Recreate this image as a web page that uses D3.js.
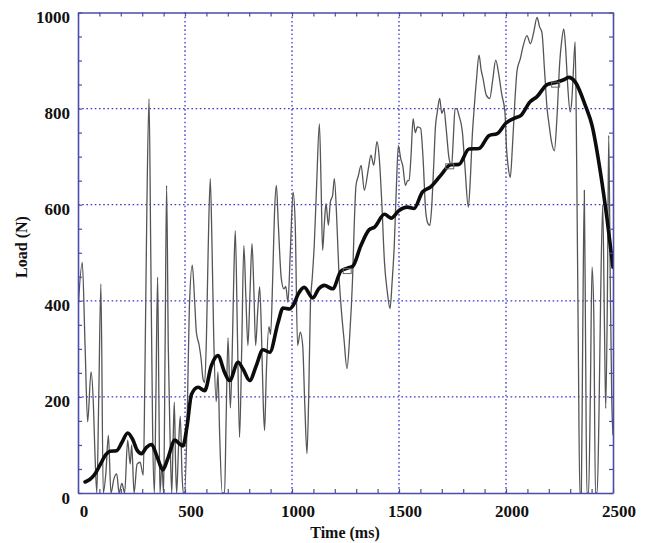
<!DOCTYPE html>
<html><head><meta charset="utf-8">
<script src="https://cdn.jsdelivr.net/npm/d3@7"></script>
<style>
html,body{margin:0;padding:0;background:#fff;}
text{font-family:"Liberation Serif","Times New Roman",serif;font-weight:bold;fill:#111;}
</style></head>
<body><svg id="chart" width="652" height="543"></svg>
<script>
// ---- data ----
const rawTime = [0,20,33,45,61,72,79,88,97,107,118,130,142,154,168,181,192,205,218,232,244,251,262,276,290,305,313,322,332,340,349,357,364,372,378,383,392,400,407,414,422,430,438,444,450,456,461,470,478,486,492,498,510,520,534,545,553,566,575,584,592,600,608,618,626,634,646,654,662,674,685,692,701,712,720,728,735,745,755,765,775,785,794,804,813,822,830,840,849,858,866,872,880,892,900,910,918,927,936,950,962,971,981,992,1005,1015,1026,1039,1050,1060,1070,1078,1086,1095,1104,1115,1128,1136,1143,1151,1159,1170,1179,1190,1198,1210,1220,1229,1243,1257,1270,1283,1291,1299,1310,1323,1338,1357,1369,1382,1397,1408,1420,1432,1445,1458,1468,1478,1488,1497,1508,1518,1530,1540,1547,1556,1566,1576,1586,1601,1612,1625,1636,1644,1652,1662,1670,1679,1690,1700,1710,1720,1734,1746,1754,1762,1770,1780,1796,1808,1824,1834,1842,1850,1862,1874,1884,1893,1908,1924,1938,1952,1967,1980,1995,2002,2010,2020,2030,2042,2052,2067,2080,2098,2114,2130,2145,2157,2168,2180,2192,2200,2213,2226,2238,2251,2260,2270,2278,2288,2300,2308,2315,2323,2330,2338,2345,2352,2358,2366,2372,2378,2386,2394,2402,2410,2418,2426,2434,2442,2452,2460,2466,2474,2480,2487,2494,2500];
const rawLoad = [380,480,307,148,252,183,85,0,200,435,0,40,120,0,30,40,0,20,0,110,60,100,0,60,64,37,260,600,820,500,120,0,200,449,200,0,60,0,300,640,300,120,0,100,189,60,0,100,160,40,0,0,150,380,474,400,335,308,280,238,230,320,500,654,520,330,190,252,120,0,0,150,323,177,280,450,546,330,116,300,515,400,307,420,519,420,307,380,429,320,180,130,250,346,330,450,580,640,560,446,425,430,397,500,626,560,307,335,307,180,82,200,390,450,516,640,768,640,505,560,602,557,605,620,654,560,450,390,320,259,330,446,560,640,660,682,630,675,703,682,731,696,600,481,420,384,440,516,640,723,696,680,640,650,650,700,779,750,762,759,700,585,560,557,590,680,760,793,821,790,800,760,696,682,740,800,800,786,752,680,595,660,740,793,860,911,880,862,828,821,860,901,869,830,793,720,680,657,720,820,880,904,930,952,935,960,990,970,958,880,800,771,730,712,780,896,940,966,930,850,793,820,880,939,700,300,0,0,300,630,300,0,0,200,470,380,0,0,150,400,600,350,176,420,744,450,200,120];
const smoothTime = [33,55,80,105,130,150,180,205,232,255,275,297,320,344,370,396,420,453,475,490,510,530,561,592,623,654,685,708,748,771,802,833,864,896,935,958,989,1005,1030,1057,1097,1125,1151,1190,1229,1260,1284,1322,1361,1385,1432,1463,1500,1539,1570,1609,1648,1695,1741,1780,1827,1874,1921,1959,2000,2040,2070,2112,2145,2192,2237,2270,2293,2324,2371,2402,2441,2472,2500];
const smoothLoad = [23,28,40,60,80,87,88,105,125,112,90,82,95,101,75,48,72,110,102,98,140,205,220,213,265,286,251,234,272,258,234,265,298,293,355,385,383,390,415,428,406,425,432,425,462,468,472,515,548,553,580,572,588,595,592,626,637,661,683,684,716,717,744,748,770,780,786,814,825,850,855,860,865,855,806,765,668,571,470];
const markerTime = [1258,1737,2232];
const markerLoad = [465,683,853];
const xTickLabels = [0,500,1000,1500,2000,2500];
const yTickLabels = [0,200,400,600,800,1000];
const xGrid = [500,1000,1500,2000];
const yGrid = [200,400,600,800];
const xTitle = "Time (ms)";
const yTitle = "Load (N)";

// ---- layout ----
const L = 78, R = 613, T = 12.5, B = 493;
const svg = d3.select("#chart");
const x = d3.scaleLinear().domain([0,2500]).range([L,R]);
const y = d3.scaleLinear().domain([0,1000]).range([B,T]);
const axisColor = "#4c4caa";
const gridColor = "#3a3ac8";

// gridlines
svg.append("g").selectAll("line.gx").data(xGrid).join("line")
  .attr("x1", d=>x(d)).attr("x2", d=>x(d)).attr("y1", T).attr("y2", B)
  .attr("stroke", gridColor).attr("stroke-width", 1.3).attr("stroke-dasharray", "1.6,2.6");
svg.append("g").selectAll("line.gy").data(yGrid).join("line")
  .attr("y1", d=>y(d)).attr("y2", d=>y(d)).attr("x1", L).attr("x2", R)
  .attr("stroke", gridColor).attr("stroke-width", 1.3).attr("stroke-dasharray", "1.6,2.6");

// clip
svg.append("clipPath").attr("id","clip").append("rect")
  .attr("x", L).attr("y", T).attr("width", R-L).attr("height", B-T);

const rawData = rawTime.map((t,i)=>[t, rawLoad[i]]);
const smoothData = smoothTime.map((t,i)=>[t, smoothLoad[i]]);

const line = d3.line().x(d=>x(d[0])).y(d=>y(d[1])).curve(d3.curveMonotoneX);

const g = svg.append("g").attr("clip-path","url(#clip)");
g.append("path").datum(rawData).attr("d", line)
  .attr("fill","none").attr("stroke","#555").attr("stroke-width",1.3).attr("stroke-linejoin","round");
g.append("path").datum(smoothData).attr("d", line)
  .attr("fill","none").attr("stroke","#0c0c0c").attr("stroke-width",3.6).attr("stroke-linejoin","round").attr("stroke-linecap","round");
g.selectAll("rect.m").data(markerTime.map((t,i)=>[t, markerLoad[i]])).join("rect")
  .attr("x", d=>x(d[0])-4).attr("y", d=>y(d[1])-1).attr("width",8).attr("height",5)
  .attr("fill","none").attr("stroke","#666").attr("stroke-width",1);

// axes (inward ticks)
function styleAxis(sel){
  sel.selectAll("path.domain").attr("stroke", axisColor).attr("stroke-width", 1.6);
  sel.selectAll(".tick line").attr("stroke", axisColor).attr("stroke-width", 1.2);
  sel.selectAll(".tick text").remove();
}
const xMinor = d3.range(0, 2501, 100);
const yMinor = d3.range(0, 1001, 50);
svg.append("g").attr("transform", `translate(0,${B})`)
  .call(d3.axisBottom(x).tickValues(xMinor).tickSize(-4).tickSizeOuter(0).tickFormat("")).call(styleAxis);
svg.append("g").attr("transform", `translate(0,${T})`)
  .call(d3.axisTop(x).tickValues(xMinor).tickSize(-4).tickSizeOuter(0).tickFormat("")).call(styleAxis);
svg.append("g").attr("transform", `translate(${L},0)`)
  .call(d3.axisLeft(y).tickValues(yMinor).tickSize(-4).tickSizeOuter(0).tickFormat("")).call(styleAxis);
svg.append("g").attr("transform", `translate(${R},0)`)
  .call(d3.axisRight(y).tickValues(yMinor).tickSize(-4).tickSizeOuter(0).tickFormat("")).call(styleAxis);

// tick labels
svg.append("g").selectAll("text").data(xTickLabels).join("text")
  .attr("x", d=>x(d)+6).attr("y", 517).attr("text-anchor","middle")
  .attr("font-size", 17).text(d=>d);
svg.append("g").selectAll("text").data(yTickLabels).join("text")
  .attr("x", 70).attr("y", d=>y(d)+10.5).attr("text-anchor","end")
  .attr("font-size", 17).text(d=>d);

// titles
svg.append("text").attr("x", 345).attr("y", 538).attr("text-anchor","middle")
  .attr("font-size", 16).text(xTitle);
svg.append("text").attr("transform", "translate(27,247) rotate(-90)")
  .attr("text-anchor","middle").attr("font-size", 16).text(yTitle);
</script></body></html>
